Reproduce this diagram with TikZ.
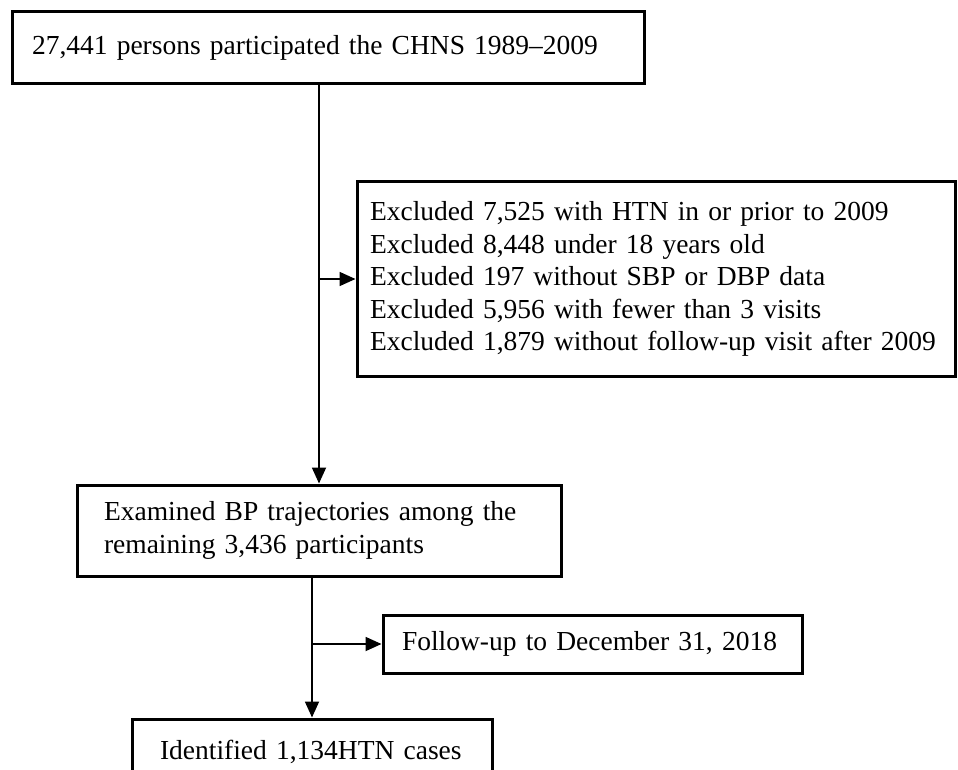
\documentclass[tikz,border=0pt]{standalone}
\usepackage{fontspec}
\setmainfont{Liberation Serif}
\usetikzlibrary{arrows.meta}
\begin{document}
\begin{tikzpicture}[x=1pt,y=-1pt,
 box/.style={draw, line width=3pt, rectangle, align=left, font=\fontsize{27.5}{32.5}\selectfont, inner ysep=0pt},
 conn/.style={line width=1.8pt},
 arr/.style={conn, -{Triangle[length=16pt,width=14pt]}}]
\useasboundingbox (0,0) rectangle (958,770);
\clip (0,0) rectangle (958,770);
\node[box, minimum width=632pt, minimum height=72pt, text width=592pt, inner xsep=20pt] (n1) at (328,48) {27,441 persons participated the CHNS 1989--2009};
\node[box, minimum width=598pt, minimum height=194pt, text width=572pt, inner xsep=13pt] (n2) at (656,279) {Excluded 7,525 with HTN in or prior to 2009\\Excluded 8,448 under 18 years old\\Excluded 197 without SBP or DBP data\\Excluded 5,956 with fewer than 3 visits\\Excluded 1,879 without follow-up visit after 2009};
\node[box, minimum width=484pt, minimum height=91pt, text width=430pt, inner xsep=27pt] (n3) at (319,530.5) {Examined BP trajectories among the\\remaining 3,436 participants};
\node[box, minimum width=419pt, minimum height=58pt, text width=381pt, inner xsep=19pt] (n4) at (592.5,644) {Follow-up to December 31, 2018};
\node[box, minimum width=360pt, minimum height=66pt, text width=304pt, inner xsep=28pt] (n5) at (312,752) {Identified 1,134HTN cases};
\draw[arr] (n1.south -| n3.north) -- (n3.north);
\draw[arr] (n3.north |- n2.west) -- (n2.west);
\draw[arr] (n3.south -| n5.north) -- (n5.north);
\draw[arr] (n5.north |- n4.west) -- (n4.west);
\end{tikzpicture}
\end{document}
